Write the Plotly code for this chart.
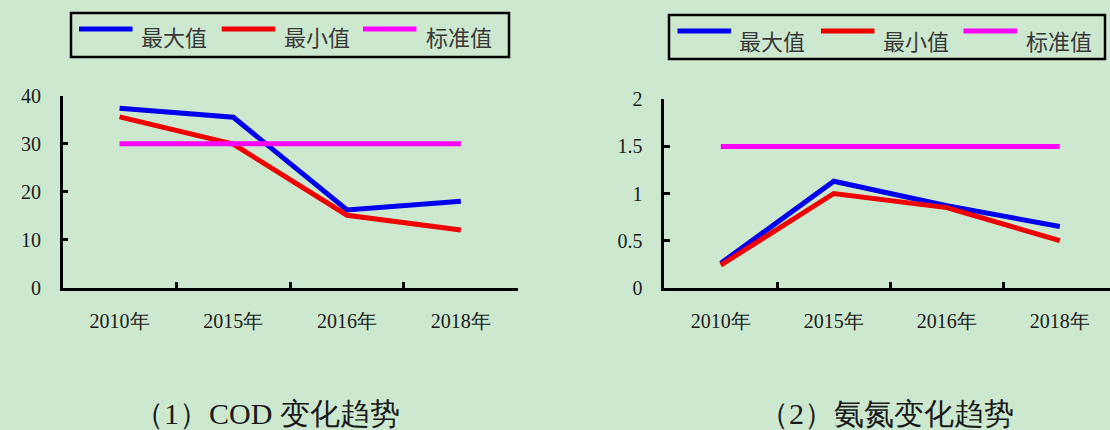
import plotly.graph_objects as go

# ---- data ----
years = ["2010年", "2015年", "2016年", "2018年"]

cod_max = [37.4, 35.5, 16.2, 18.0]
cod_min = [35.6, 29.9, 15.1, 12.0]
cod_std = [30, 30, 30, 30]

nh3_max = [0.26, 1.13, 0.87, 0.65]
nh3_min = [0.24, 1.00, 0.85, 0.50]
nh3_std = [1.5, 1.5, 1.5, 1.5]

series_names = ["最大值", "最小值", "标准值"]
series_colors = ["#0000F0", "#F00000", "#FF00FF"]

panel_titles = ["（1）COD 变化趋势", "（2）氨氮变化趋势"]

W, H = 1110, 430
BG = "#CCE8CF"
SERIF = "Liberation Serif"
SANS = "Noto Sans CJK SC"


def px(x):
    return x / W


def py(y):
    return 1 - y / H


fig = go.Figure()

panels = [
    ("x", "y", [cod_max, cod_min, cod_std]),
    ("x2", "y2", [nh3_max, nh3_min, nh3_std]),
]
for xa, ya, values in panels:
    for name, color, vals in zip(series_names, series_colors, values):
        fig.add_trace(go.Scatter(
            x=years, y=vals, name=name, mode="lines",
            line=dict(color=color, width=5),
            xaxis=xa, yaxis=ya, showlegend=False, hoverinfo="skip",
        ))

axis_common = dict(
    showline=True, linecolor="black", linewidth=2.5,
    ticks="inside", ticklen=6, tickwidth=2.5, tickcolor="black",
    showgrid=False, zeroline=False, automargin=False,
    tickfont=dict(family=SERIF, size=20, color="#1a1a1a"),
)

fig.update_layout(
    width=W, height=H, autosize=False,
    margin=dict(l=0, r=0, t=0, b=0, pad=0),
    paper_bgcolor=BG, plot_bgcolor=BG,
    showlegend=False,
    xaxis=dict(axis_common, domain=[px(62.7), px(517.7)], type="category",
               range=[-0.5, 3.5], tickson="boundaries", anchor="y",
               ticklabelstandoff=14),
    yaxis=dict(axis_common, domain=[py(287.7), py(95.7)], range=[0, 40],
               tickvals=[0, 10, 20, 30, 40], anchor="x",
               ticklabelstandoff=15),
    xaxis2=dict(axis_common, domain=[px(664.3), 1.0], type="category",
                range=[-0.5, -0.5 + (W - 664.3) / 113.0],
                tickson="boundaries", anchor="y2", ticklabelstandoff=14),
    yaxis2=dict(axis_common, domain=[py(287.7), py(99.3)], range=[0, 2],
                tickvals=[0, 0.5, 1, 1.5, 2], ticktext=["0", "0.5", "1", "1.5", "2"],
                anchor="x2", ticklabelstandoff=15),
)

# ---- boxed legends (one per panel) ----
legend_layouts = [
    # box (x0, y0, x1, y1), sample line y, text centre y, sample starts, text starts
    dict(box=(71, 13, 509, 57), ly=29, ty=36,
         samples=[79, 221.7, 363], texts=[139, 282, 424]),
    dict(box=(669, 15, 1105, 59), ly=31, ty=40,
         samples=[677.5, 821, 963.5], texts=[737, 881, 1024]),
]
shapes = []
annotations = []
for lg in legend_layouts:
    x0, y0, x1, y1 = lg["box"]
    shapes.append(dict(type="rect", xref="paper", yref="paper",
                       x0=px(x0), x1=px(x1), y0=py(y1), y1=py(y0),
                       line=dict(color="black", width=2.5), fillcolor=BG))
    for name, color, sx, tx in zip(series_names, series_colors,
                                   lg["samples"], lg["texts"]):
        shapes.append(dict(type="line", xref="paper", yref="paper",
                           x0=px(sx), x1=px(sx + 53.5), y0=py(lg["ly"]), y1=py(lg["ly"]),
                           line=dict(color=color, width=5)))
        annotations.append(dict(xref="paper", yref="paper", x=px(tx), y=py(lg["ty"]),
                                xanchor="left", yanchor="middle", showarrow=False,
                                text=name, font=dict(family=SANS, size=22, color="#383838")))

# ---- panel captions ----
for title, cx in zip(panel_titles, [266.7, 886]):
    annotations.append(dict(xref="paper", yref="paper", x=px(cx), y=py(413),
                            xanchor="center", yanchor="middle", showarrow=False,
                            text=title, font=dict(family=SERIF, size=30, color="#1a1a1a")))

fig.update_layout(shapes=shapes, annotations=annotations)

fig.write_html("out.html")
